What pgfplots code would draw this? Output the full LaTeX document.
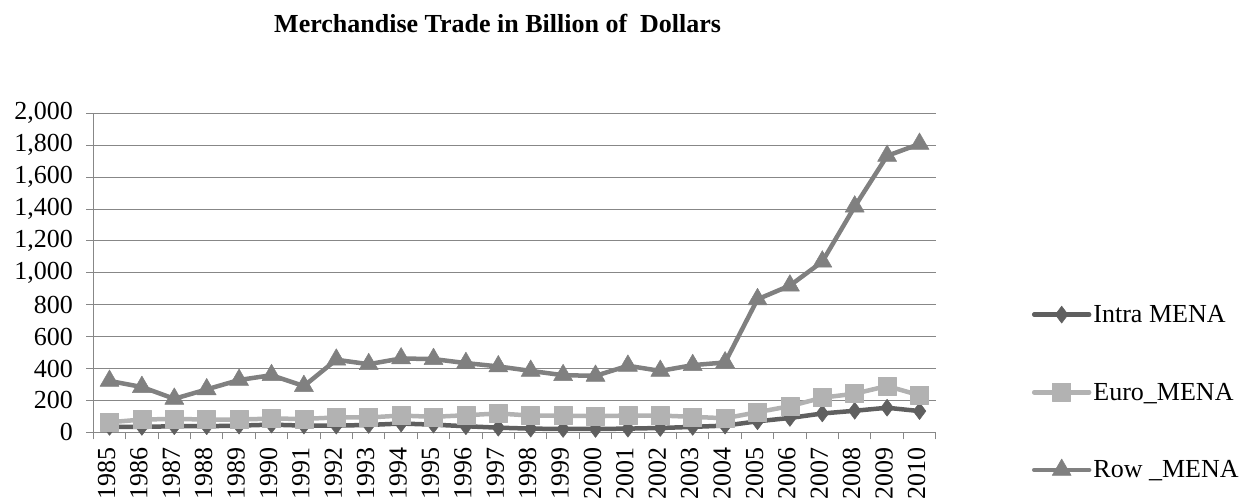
\documentclass[border=0pt]{standalone}
\usepackage{fontspec}
\setmainfont{Liberation Serif}
\usepackage{pgfplots}
\pgfplotsset{compat=1.18}
\definecolor{intra}{HTML}{5F5F5F}
\definecolor{euro}{HTML}{B2B2B2}
\definecolor{rowc}{HTML}{808080}
\definecolor{gridc}{HTML}{878787}
\begin{document}
\begin{tikzpicture}[x=1pt,y=1pt]
\useasboundingbox (0,0) rectangle (1249,501);
\begin{axis}[
  at={(93.3pt,68.7pt)}, anchor=south west,
  scale only axis, width=842.4pt, height=319pt,
  xmin=-0.5, xmax=25.5, ymin=0, ymax=2000,
  clip=false,
  axis x line*=bottom, axis y line*=left,
  axis line style={draw=gridc, line width=1pt, -},
  xtick={0,...,25},
  xticklabels={1985,1986,1987,1988,1989,1990,1991,1992,1993,1994,1995,1996,1997,1998,1999,2000,2001,2002,2003,2004,2005,2006,2007,2008,2009,2010},
  minor xtick={-0.5,0.5,...,25.5},
  ytick={0,200,...,2000},
  ymajorgrids,
  major grid style={draw=gridc, line width=1pt},
  tick align=outside,
  major tick length=7pt, minor tick length=7pt,
  major x tick style={draw=none},
  minor x tick style={draw=gridc, line width=1pt},
  ytick style={draw=gridc, line width=1pt},
  tick label style={font=\fontsize{26}{31}\selectfont},
  /pgf/number format/assume math mode=true,
  yticklabel style={/pgf/number format/1000 sep={,}, xshift=-10pt},
  xticklabel style={rotate=90, anchor=east, xshift=-5pt, yshift=3pt},
  title={Merchandise Trade in Billion of\ \ Dollars},
  title style={at={(0.48,1.262)}, anchor=center, font=\fontsize{26}{31}\selectfont\bfseries},
  legend style={at={(1.114,0.405)}, anchor=north west, draw=none, fill=none,
    font=\fontsize{26}{31}\selectfont, row sep=55pt, inner sep=0pt},
  legend cell align=left,
  legend image code/.code={\draw[mark repeat=2,mark phase=2,#1] plot coordinates {(0pt,0pt) (27.5pt,0pt) (55pt,0pt)};},
  every axis plot/.append style={line width=4.5pt, line cap=round, line join=round},
]
\addplot[intra, mark=diamond*, mark size=8.5pt, mark options={solid, fill=intra, line width=0.5pt}] coordinates {
(0,34)(1,34)(2,38)(3,38)(4,42)(5,48)(6,42)(7,42)(8,46)(9,55)(10,48)(11,38)(12,29)
(13,23)(14,21)(15,21)(16,23)(17,27)(18,34)(19,42)(20,69)(21,90)(22,118)(23,135)(24,154)(25,133)};
\addlegendentry{Intra MENA}
\addplot[euro, mark=square*, mark size=9pt, mark options={solid, fill=euro, line width=0.5pt}] coordinates {
(0,63)(1,80)(2,84)(3,80)(4,80)(5,86)(6,84)(7,93)(8,93)(9,105)(10,97)(11,107)(12,118)
(13,105)(14,105)(15,101)(16,105)(17,105)(18,97)(19,88)(20,126)(21,164)(22,217)(23,242)(24,290)(25,232)};
\addlegendentry{Euro\_MENA}
\addplot[rowc, mark=triangle*, mark size=11pt, mark options={solid, fill=rowc, line width=0.5pt}] coordinates {
(0,322)(1,284)(2,210)(3,269)(4,328)(5,358)(6,290)(7,455)(8,427)(9,463)(10,459)(11,434)(12,413)
(13,385)(14,358)(15,354)(16,417)(17,385)(18,421)(19,438)(20,834)(21,920)(22,1070)(23,1415)(24,1733)(25,1808)};
\addlegendentry{Row \_MENA}
\end{axis}
\end{tikzpicture}
\end{document}
